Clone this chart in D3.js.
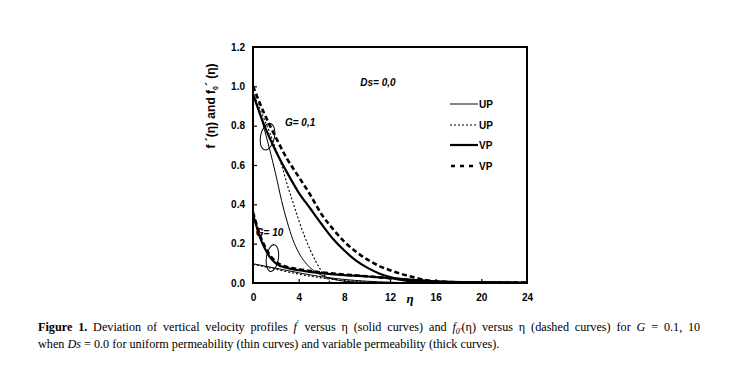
<!DOCTYPE html>
<html><head><meta charset="utf-8">
<script src="https://cdn.jsdelivr.net/npm/d3@7/dist/d3.min.js"></script>
<style>
html,body{margin:0;padding:0;background:#fff;}
svg{display:block;}
</style></head>
<body>
<svg id="chart" width="736" height="392"></svg>
<script>
// ---- data ----
const xTicks = [0, 4, 8, 12, 16, 20, 24];
const yTicks = [0.0, 0.2, 0.4, 0.6, 0.8, 1.0, 1.2];

// G = 0.1
const eta_UP01 = [0, 0.5, 1, 1.5, 2, 2.5, 3, 3.5, 4, 4.5, 5, 5.5, 6, 7, 8, 10, 14];
const f_UP01   = [0.97, 0.88, 0.78, 0.67, 0.55, 0.42, 0.31, 0.22, 0.155, 0.11, 0.078, 0.056, 0.04, 0.02, 0.009, 0.003, 0.0];

const eta_UP01d = [0, 0.5, 1, 1.5, 2, 2.5, 3, 3.5, 4, 4.5, 5, 5.5, 6, 6.5, 6.8];
const f0_UP01   = [0.97, 0.9, 0.83, 0.76, 0.68, 0.6, 0.5, 0.41, 0.32, 0.24, 0.17, 0.11, 0.06, 0.022, 0.0];

const eta_VP01 = [0, 1, 2, 3, 4, 5, 6, 7, 8, 9, 10, 11, 12, 13, 14, 16, 20, 24];
const f_VP01   = [0.96, 0.8, 0.67, 0.56, 0.46, 0.38, 0.3, 0.225, 0.165, 0.115, 0.078, 0.05, 0.03, 0.016, 0.008, 0.004, 0.002, 0.0];

const eta_VP01d = [0, 1, 2, 3, 4, 5, 6, 7, 8, 9, 10, 11, 12, 13, 14, 15, 16, 18, 24];
const f0_VP01   = [1.0, 0.86, 0.74, 0.63, 0.54, 0.45, 0.35, 0.275, 0.21, 0.16, 0.12, 0.088, 0.065, 0.046, 0.03, 0.016, 0.008, 0.003, 0.002];

// G = 10
const eta_UP10 = [0, 2, 4, 6, 8, 10, 12, 14];
const f_UP10   = [0.098, 0.075, 0.052, 0.032, 0.018, 0.009, 0.004, 0.0];

const eta_UP10d = [0, 2, 4, 6, 8, 10, 12, 13];
const f0_UP10   = [0.095, 0.07, 0.045, 0.026, 0.013, 0.005, 0.001, 0.0];

const eta_VP10 = [0, 0.3, 0.6, 1, 1.5, 2, 3, 4, 5, 6, 8, 10, 12, 14, 16, 20, 24];
const f_VP10   = [0.35, 0.29, 0.235, 0.18, 0.13, 0.1, 0.076, 0.065, 0.057, 0.05, 0.04, 0.033, 0.025, 0.016, 0.009, 0.004, 0.002];

const eta_VP10d = [0, 0.3, 0.6, 1, 1.5, 2, 3, 4, 5, 6, 8, 10, 12, 14, 16, 20];
const f0_VP10   = [0.36, 0.3, 0.245, 0.19, 0.14, 0.108, 0.082, 0.07, 0.061, 0.054, 0.043, 0.034, 0.024, 0.014, 0.007, 0.002];

const legendLabels = ["UP", "UP", "VP", "VP"];

// ---- drawing ----
const svg = d3.select("#chart");
const x = d3.scaleLinear().domain([0, 24]).range([253, 527]);
const y = d3.scaleLinear().domain([0, 1.2]).range([283, 47]);

const styles = {
  thinSolid:  {w: 1.0, dash: null},
  thinDot:    {w: 1.1, dash: "2,2"},
  thickSolid: {w: 2.2, dash: null},
  thickDash:  {w: 2.6, dash: "5,3"}
};

const line = d3.line().x(d => x(d[0])).y(d => y(d[1])).curve(d3.curveMonotoneX);
function series(xs, ys, st) {
  const pts = xs.map((v, i) => [v, ys[i]]);
  svg.append("path").attr("d", line(pts)).attr("fill", "none")
    .attr("stroke", "#000").attr("stroke-width", st.w)
    .attr("stroke-dasharray", st.dash);
}

// Axes with inward ticks
const gx = svg.append("g").attr("transform", `translate(0,${y(0)})`)
  .call(d3.axisBottom(x).tickValues(xTicks).tickSize(-4).tickPadding(11).tickFormat(d3.format("d")));
const gy = svg.append("g").attr("transform", `translate(${x(0)},0)`)
  .call(d3.axisLeft(y).tickValues(yTicks).tickSize(-4).tickPadding(8).tickFormat(d3.format(".1f")));
[gx, gy].forEach(g => {
  g.select(".domain").remove();
  g.selectAll("line").attr("stroke", "#000").attr("stroke-width", 1.2);
  g.selectAll("text").attr("font-family", "Liberation Sans, Arial, sans-serif")
    .attr("font-weight", "bold").attr("font-size", 10).attr("fill", "#000");
});
gx.selectAll(".tick line").filter(d => d === 0 || d === 24).remove();
gy.selectAll(".tick line").filter(d => d === 0 || d === 1.2).remove();

// frame
svg.append("rect").attr("x", x(0)).attr("y", y(1.2))
  .attr("width", x(24) - x(0)).attr("height", y(0) - y(1.2))
  .attr("fill", "none").attr("stroke", "#000").attr("stroke-width", 2);

// curves
series(eta_UP01, f_UP01, styles.thinSolid);
series(eta_UP01d, f0_UP01, styles.thinDot);
series(eta_VP01, f_VP01, styles.thickSolid);
series(eta_VP01d, f0_VP01, styles.thickDash);
series(eta_UP10, f_UP10, styles.thinSolid);
series(eta_UP10d, f0_UP10, styles.thinDot);
series(eta_VP10, f_VP10, styles.thickSolid);
series(eta_VP10d, f0_VP10, styles.thickDash);

// ellipses
function ell(cx, cy, rx, ry, rot) {
  svg.append("ellipse").attr("cx", 0).attr("cy", 0).attr("rx", rx).attr("ry", ry)
    .attr("transform", `translate(${x(cx)},${y(cy)}) rotate(${rot})`)
    .attr("fill", "none").attr("stroke", "#000").attr("stroke-width", 1);
}
ell(1.27, 0.744, 7, 13.5, 12);
ell(1.7, 0.127, 6, 13.5, 8);

// annotations
const ann = (t, xv, yv, size) => svg.append("text").attr("x", x(xv)).attr("y", y(yv))
  .attr("font-family", "Liberation Sans, Arial, sans-serif").attr("font-weight", "bold")
  .attr("font-style", "italic").attr("font-size", size).attr("fill", "#000").text(t);
ann("Ds= 0,0", 9.4, 1.0, 10);
ann("G= 0,1", 2.8, 0.8, 10);
ann("G= 10", 0.25, 0.24, 10);

// x axis title
svg.append("text").attr("x", 410).attr("y", 303).attr("text-anchor", "middle")
  .attr("font-family", "Liberation Serif, Times New Roman, serif").attr("font-weight", "bold")
  .attr("font-style", "italic").attr("font-size", 13).text("η");

// y axis title
const yt = svg.append("text").attr("transform", "translate(215,106) rotate(-90)")
  .attr("text-anchor", "middle").attr("font-family", "Liberation Sans, Arial, sans-serif")
  .attr("font-weight", "bold").attr("font-size", 12);
yt.append("tspan").text("f ´(η)  and f");
yt.append("tspan").attr("font-size", 7).attr("dy", 3).text("0");
yt.append("tspan").attr("dy", -3).text("´ (η)");

// legend
const legStyles = [styles.thinSolid, styles.thinDot, styles.thickSolid, {w: 2.4, dash: "4,5"}];
const legY = [104, 125, 145, 166];
legendLabels.forEach((lab, i) => {
  const st = legStyles[i];
  svg.append("line").attr("x1", i === 3 ? 451 : 450).attr("x2", 478).attr("y1", legY[i]).attr("y2", legY[i])
    .attr("stroke", i === 0 ? "#444" : "#000").attr("stroke-width", i === 0 ? 1.3 : st.w)
    .attr("stroke-dasharray", st.dash);
  svg.append("text").attr("x", 479).attr("y", legY[i] + 4)
    .attr("font-family", "Liberation Sans, Arial, sans-serif").attr("font-weight", "bold")
    .attr("font-size", 10).text(lab);
});

// caption
const cap = svg.append("g").attr("font-family", "Liberation Serif, Times New Roman, serif")
  .attr("font-size", 12.2).attr("fill", "#000");
const l1 = cap.append("text").attr("x", 38).attr("y", 331);
l1.append("tspan").attr("font-weight", "bold").text("Figure 1.");
l1.append("tspan").text(" Deviation of vertical velocity profiles ");
l1.append("tspan").attr("font-style", "italic").text("f");
l1.append("tspan").attr("dy", -5).attr("font-size", 8).text("′");
l1.append("tspan").attr("dy", 5).text("  versus η (solid curves) and ");
l1.append("tspan").attr("font-style", "italic").text("f");
l1.append("tspan").attr("font-style", "italic").attr("font-size", 8).attr("dy", 3).text("0′");
l1.append("tspan").attr("dy", -3).text("(η) versus η (dashed curves) for ");
l1.append("tspan").attr("font-style", "italic").text("G");
l1.append("tspan").text(" = 0.1, 10");
// justify line 1 to the reference width
const w1 = l1.node().getComputedTextLength();
const target = 665;
const nSpaces = (l1.text().match(/ /g) || []).length;
if (w1 < target && nSpaces > 0) l1.attr("word-spacing", (target - w1) / nSpaces);

const l2 = cap.append("text").attr("x", 38).attr("y", 348);
l2.append("tspan").text("when ");
l2.append("tspan").attr("font-style", "italic").text("Ds");
l2.append("tspan").text(" = 0.0 for uniform permeability (thin curves) and variable permeability (thick curves).");
</script>
</body></html>
